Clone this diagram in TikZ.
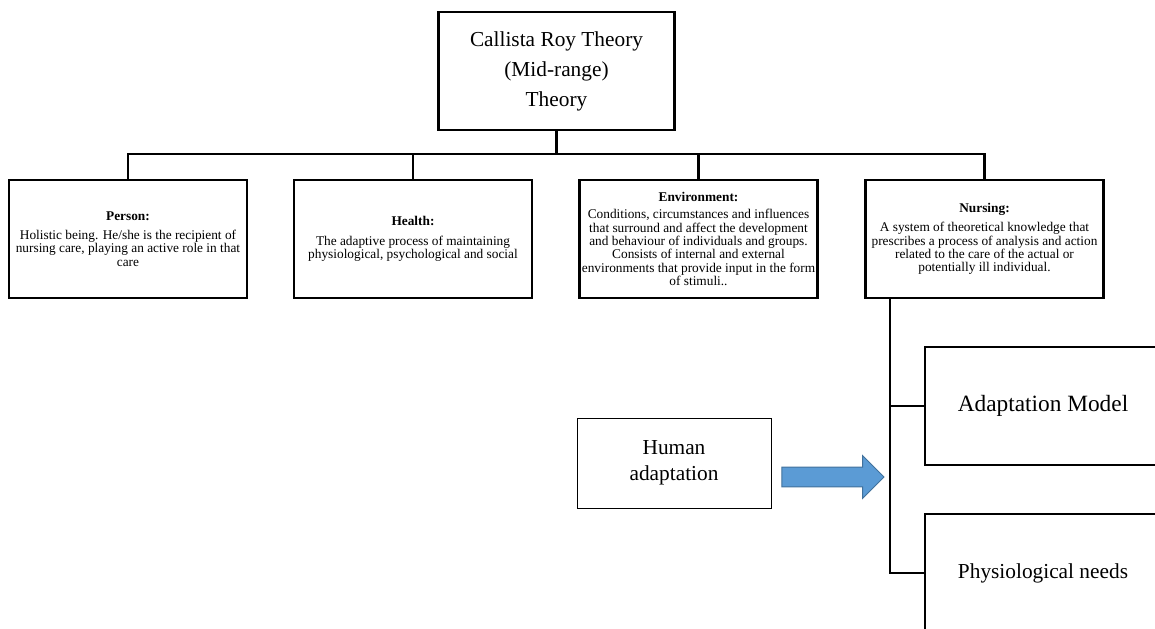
\documentclass[tikz,border=0pt]{standalone}
\usepackage{fontspec}
\setmainfont{Liberation Serif}
\usepackage{tikz}
\usetikzlibrary{positioning,shapes.arrows}
\definecolor{arrowblue}{HTML}{5B9BD5}
\definecolor{arrowline}{HTML}{41719C}

\begin{document}
\begin{tikzpicture}[x=0.75pt, y=-0.75pt, line width=1.6pt,
    concept/.style = {draw, rectangle, align=center, minimum width=178.5pt, minimum height=88.5pt, inner sep=1pt, font=\fontsize{10}{10}\selectfont},
    bigbox/.style = {draw, rectangle, align=center, minimum width=177pt, minimum height=88.5pt, font=\fontsize{16}{22.5}\selectfont}]
    \useasboundingbox (0,0) rectangle (1155,628);
    \clip (0,0) rectangle (1155,628);

    \node[bigbox] (roy) at (556.5,71) {Callista Roy Theory\\(Mid-range)\\Theory};
    \node[concept] (person) at (128,239) {\textbf{Person:}\\[4.5pt]Holistic being. He/she is the recipient of\\nursing care, playing an active role in that\\care};
    \node[concept] (health) at (413,239) {\textbf{Health:}\\[4.5pt]The adaptive process of maintaining\\physiological, psychological and social};
    \node[concept] (env) at (698.5,239) {\textbf{Environment:}\\[3pt]Conditions, circumstances and influences\\that surround and affect the development\\and behaviour of individuals and groups.\\Consists of internal and external\\environments that provide input in the form\\of stimuli..};
    \node[concept] (nursing) at (984.5,239) {\textbf{Nursing:}\\[4.5pt]A system of theoretical knowledge that\\prescribes a process of analysis and action\\related to the care of the actual or\\potentially ill individual.};

    \node[bigbox, font=\fontsize{17.5}{21}\selectfont] (adapt) at (1043,406) {Adaptation Model};
    \node[bigbox] (physio) at (1043,573) {Physiological needs};
    \node[draw, rectangle, align=center, line width=0.75pt, minimum width=145.5pt, minimum height=67.5pt, font=\fontsize{16}{19.5}\selectfont] (human) at (674,463) {Human\\adaptation};
    \node[single arrow, draw=arrowline, fill=arrowblue, line width=0.75pt, minimum height=76.5pt, inner xsep=0pt, inner ysep=7.1pt, single arrow head extend=8.6pt] (push) at (828,477) {};

    \coordinate (bus) at (556.5,154);
    \coordinate (trunk) at (890,0);
    \draw (roy) -- (bus);
    \draw (person.north) |- (bus) -| (nursing.north);
    \draw (health.north) -- (health.north |- bus);
    \draw (env.north) -- (env.north |- bus);
    \draw (nursing.south -| trunk) |- (physio.west);
    \draw (trunk |- adapt.west) -- (adapt.west);
\end{tikzpicture}
\end{document}
